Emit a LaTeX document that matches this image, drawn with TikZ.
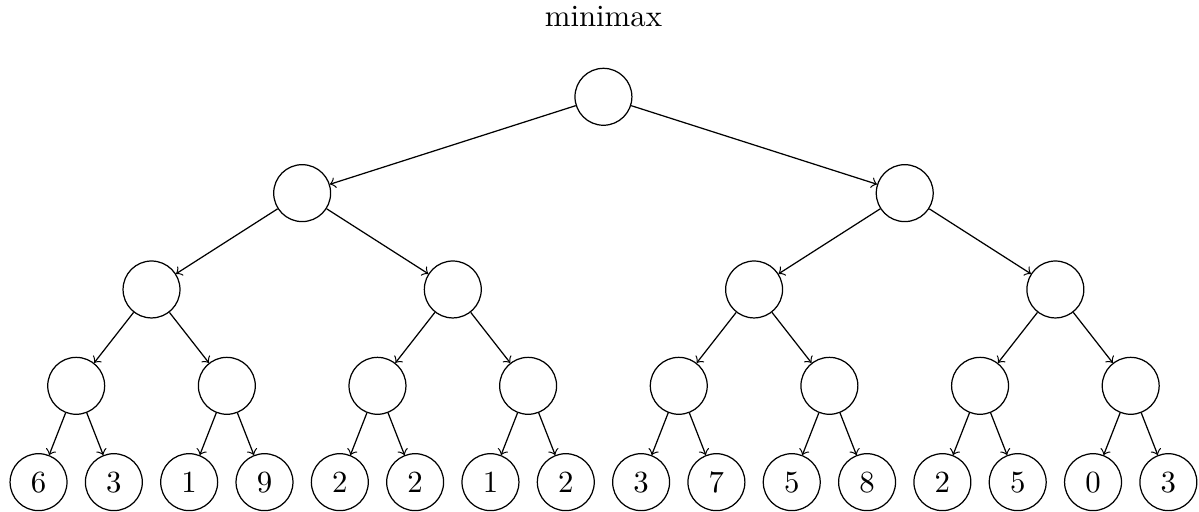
\documentclass[tikz,border=0pt]{standalone}
\begin{document}
\begin{tikzpicture}[main/.style = {draw, circle, minimum size=0.65cm, inner sep=0pt}]
        \useasboundingbox (0,0) rectangle (13.69,5.845);
        \node[anchor=base] at (6.89,5.54) (title) { minimax };
        \node[main] at (6.89,4.74) (1) {};
        \node[main] at (3.45,3.64) (2) {};
        \node[main] at (10.33,3.64) (3) {};
        \node[main] at (1.73,2.54) (4) {};
        \node[main] at (5.17,2.54) (5) {};
        \node[main] at (8.61,2.54) (6) {};
        \node[main] at (12.05,2.54) (7) {};
        \node[main] at (0.87,1.44) (8) {};
        \node[main] at (2.59,1.44) (9) {};
        \node[main] at (4.31,1.44) (10) {};
        \node[main] at (6.03,1.44) (11) {};
        \node[main] at (7.75,1.44) (12) {};
        \node[main] at (9.47,1.44) (13) {};
        \node[main] at (11.19,1.44) (14) {};
        \node[main] at (12.91,1.44) (15) {};
        \node[main] at (0.44,0.34) (16) { 6 };
        \node[main] at (1.30,0.34) (17) { 3 };
        \node[main] at (2.16,0.34) (18) { 1 };
        \node[main] at (3.02,0.34) (19) { 9 };
        \node[main] at (3.88,0.34) (20) { 2 };
        \node[main] at (4.74,0.34) (21) { 2 };
        \node[main] at (5.60,0.34) (22) { 1 };
        \node[main] at (6.46,0.34) (23) { 2 };
        \node[main] at (7.32,0.34) (24) { 3 };
        \node[main] at (8.18,0.34) (25) { 7 };
        \node[main] at (9.04,0.34) (26) { 5 };
        \node[main] at (9.90,0.34) (27) { 8 };
        \node[main] at (10.76,0.34) (28) { 2 };
        \node[main] at (11.62,0.34) (29) { 5 };
        \node[main] at (12.48,0.34) (30) { 0 };
        \node[main] at (13.34,0.34) (31) { 3 };
        \draw [->] (1) to (2);
        \draw [->] (1) to (3);
        \draw [->] (2) to (4);
        \draw [->] (2) to (5);
        \draw [->] (3) to (6);
        \draw [->] (3) to (7);
        \draw [->] (4) to (8);
        \draw [->] (4) to (9);
        \draw [->] (5) to (10);
        \draw [->] (5) to (11);
        \draw [->] (6) to (12);
        \draw [->] (6) to (13);
        \draw [->] (7) to (14);
        \draw [->] (7) to (15);
        \draw [->] (8) to (16);
        \draw [->] (8) to (17);
        \draw [->] (9) to (18);
        \draw [->] (9) to (19);
        \draw [->] (10) to (20);
        \draw [->] (10) to (21);
        \draw [->] (11) to (22);
        \draw [->] (11) to (23);
        \draw [->] (12) to (24);
        \draw [->] (12) to (25);
        \draw [->] (13) to (26);
        \draw [->] (13) to (27);
        \draw [->] (14) to (28);
        \draw [->] (14) to (29);
        \draw [->] (15) to (30);
        \draw [->] (15) to (31);
    \end{tikzpicture}
\end{document}
